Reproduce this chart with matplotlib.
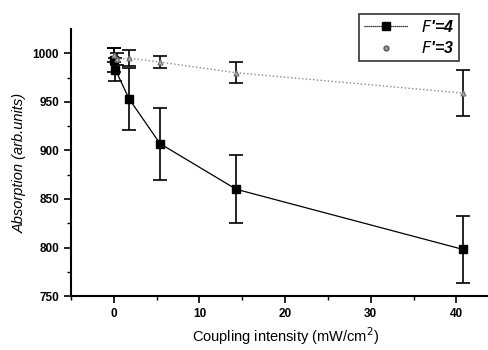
import numpy as np
import matplotlib.pyplot as plt
from matplotlib.lines import Line2D

plt.rcParams["font.family"] = ["Liberation Sans", "DejaVu Sans"]

# F'=4 data
x4 = [0.0, 0.2, 1.8, 5.4, 14.3, 40.8]
y4 = [993, 983, 953, 907, 860, 798]
e4 = [12, 12, 32, 37, 35, 34]

# F'=3 data
x3 = [0.0, 0.4, 1.8, 5.4, 14.3, 40.8]
y3 = [998, 994, 995, 991, 980, 959]
e3 = [7, 6, 8, 6, 11, 24]

fig = plt.figure(figsize=(4.89, 3.5), dpi=100)
ax = fig.add_axes([0.145, 0.154, 0.876, 0.763])

ax.errorbar(x4, y4, yerr=e4, fmt="-s", color="black", ms=6, lw=0.9,
            elinewidth=1.2, capsize=5, capthick=1.2)
ax.errorbar(x3, y3, yerr=e3, fmt=":^", color="#888888", mfc="#bbbbbb", mec="#777777",
            ms=3.5, lw=1.0, ecolor="black", elinewidth=1.2, capsize=5, capthick=1.2)

ax.set_xlim(-5, 45)
ax.set_ylim(750, 1025)
ax.set_xticks([0, 10, 20, 30, 40])
ax.set_xticks([-5, 5, 15, 25, 35], minor=True)
ax.set_yticks([750, 800, 850, 900, 950, 1000])
ax.set_yticks([775, 825, 875, 925, 975], minor=True)
ax.spines["top"].set_visible(False)
ax.spines["right"].set_visible(False)
ax.spines["left"].set_linewidth(1.5)
ax.spines["bottom"].set_linewidth(1.5)
ax.tick_params(which="major", direction="out", length=5, width=1.2, labelsize=8.5)
ax.tick_params(which="minor", direction="out", length=3, width=1.0)
for lab in ax.get_xticklabels() + ax.get_yticklabels():
    lab.set_fontweight("bold")

ax.set_xlabel("Coupling intensity (mW/cm$^2$)", fontsize=10.5)
ax.set_ylabel("Absorption (arb.units)", fontsize=10.5, style="italic")

handles = [
    Line2D([], [], color="black", lw=0.9, ls=(0, (1, 0.6)), marker="s", ms=6),
    Line2D([], [], ls="none", marker="o", ms=3.5, mfc="#999999", mec="#555555"),
]
leg = fig.legend(handles, ["$F$'=4", "$F$'=3"], loc="upper left",
                 bbox_to_anchor=(351 / 489, 1 - 6 / 350),
                 frameon=True, fancybox=False, edgecolor="black",
                 prop={"style": "italic", "weight": "bold", "size": 11.5},
                 handlelength=2.8, borderpad=0.3, labelspacing=0.35,
                 handletextpad=0.8)
leg.get_frame().set_linewidth(1.2)

fig.savefig("out.png", dpi=100)
